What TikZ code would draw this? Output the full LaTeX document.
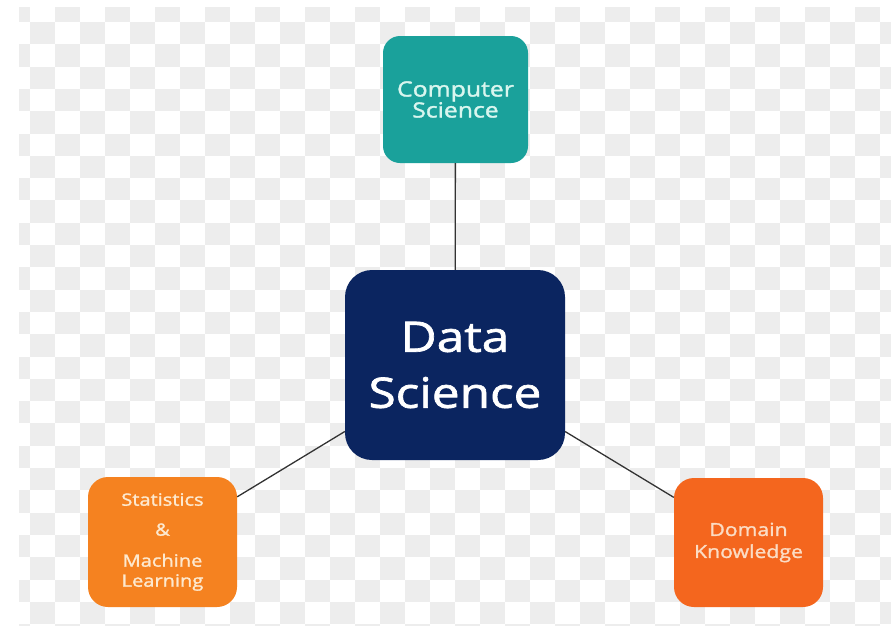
\documentclass[tikz,border=0pt]{standalone}
\usepackage{fontspec}
\newfontfamily\boxfont[FakeStretch=1.18,FakeBold=1.6]{Open Sans}
\definecolor{checkgray}{HTML}{EDEDED}
\definecolor{teal1}{HTML}{1AA19B}
\definecolor{navy1}{HTML}{0B2560}
\definecolor{orange1}{HTML}{F58220}
\definecolor{orange2}{HTML}{F4661E}
\definecolor{mint}{HTML}{D9F6EF}
\definecolor{cream1}{HTML}{FDE9CF}
\definecolor{cream2}{HTML}{FBDCC4}
\definecolor{linegray}{HTML}{333333}
\tikzset{
  box/.style={inner sep=0pt, align=center, font=\boxfont},
  link/.style={draw=linegray, line width=1.3pt}
}
\begin{document}
\begin{tikzpicture}[x=1pt, y=-1pt]
\useasboundingbox (0,0) rectangle (891,625);
\fill[white] (0,0) rectangle (891,625);
\begin{scope}
\clip (19,7) rectangle (891,625);
\foreach \r in {0,2,...,28} \foreach \c in {0,2,...,34}
  \fill[checkgray] ({5+25*\c},{-0.3+22.3*\r}) rectangle ++(25,22.3);
\foreach \r in {1,3,...,27} \foreach \c in {1,3,...,35}
  \fill[checkgray] ({5+25*\c},{-0.3+22.3*\r}) rectangle ++(25,22.3);
\end{scope}

\node[box, fill=teal1, rounded corners=17pt, minimum width=145pt, minimum height=127pt,
  text=mint, font=\boxfont\fontsize{21}{21}\selectfont] (cs) at (455.5,99.5) {Computer\\Science};
\node[box, fill=navy1, rounded corners=27pt, minimum width=220pt, minimum height=190pt,
  text=white, font=\boxfont\fontsize{42}{56}\selectfont] (ds) at (455,365) {Data\\Science};
\node[box, fill=orange1, rounded corners=20pt, minimum width=149pt, minimum height=130pt,
  text=cream1, font=\boxfont\fontsize{17}{20}\selectfont] (sml) at (162.5,542) {Statistics\\[10pt]\&\\[11pt]Machine\\Learning};
\node[box, fill=orange2, rounded corners=20pt, minimum width=149pt, minimum height=129pt,
  text=cream2, font=\boxfont\fontsize{18}{22}\selectfont] (dk) at (748.5,542.5) {Domain\\Knowledge};

\draw[link] (cs) -- (ds);
\draw[link] (ds) -- (sml);
\draw[link] (ds) -- (dk);
\end{tikzpicture}
\end{document}
